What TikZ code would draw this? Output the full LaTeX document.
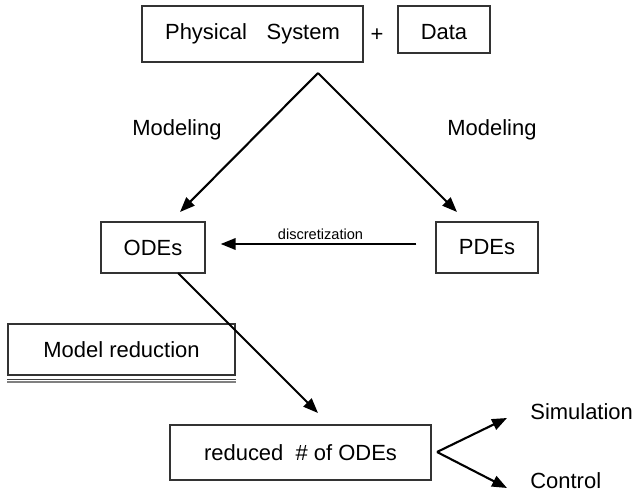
\documentclass[tikz,border=0pt]{standalone}
\usepackage{fontspec}
\setmainfont{Liberation Sans}
\usetikzlibrary{arrows.meta}

\begin{document}
\begin{tikzpicture}[x=0.02cm, y=-0.02cm,
    box/.style={draw=black!80, line width=0.8pt, inner sep=0pt, font=\fontsize{12.5}{15}\selectfont},
    lbl/.style={font=\fontsize{12.5}{15}\selectfont},
    arr/.style={line width=1.2pt, -{Triangle[length=8.5pt,width=6.5pt]}}]
    \useasboundingbox (0,0) rectangle (632,493);
    \node [box, minimum width=4.42cm, minimum height=1.12cm] (phys) at (252.5,34) {Physical\hspace{0.9em}System};
    \node [lbl] (plus) at (377,35) {+};
    \node [box, minimum width=1.84cm, minimum height=0.94cm, text height=0.41cm] (data) at (444,29.5) {Data};
    \node [lbl] (modl) at (177,130) {Modeling};
    \node [lbl] (modr) at (492,130) {Modeling};
    \node [box, minimum width=2.08cm, minimum height=1.02cm] (odes) at (153,247.5) {ODEs};
    \node [box, minimum width=2.04cm, minimum height=1.02cm] (pdes) at (487,247.5) {PDEs};
    \node [box, minimum width=4.54cm, minimum height=1.02cm] (mred) at (121.5,349.5) {Model reduction};
    \node [box, minimum width=5.22cm, minimum height=1.1cm] (red) at (300.5,452.5) {reduced\ \ \# of ODEs};
    \node [lbl, anchor=base west, inner sep=0pt] (sim) at (530,419) {Simulation};
    \node [lbl, anchor=base west, inner sep=0pt] (ctrl) at (530,488) {Control};
    \coordinate (top) at (318,73);
    \coordinate (otip) at (180,212);
    \coordinate (ptip) at (457,212);
    \coordinate (ostart) at (178,273);
    \coordinate (rtip) at (318,413);
    \coordinate (fork) at (437,452);
    \coordinate (stip) at (507,418);
    \coordinate (ctip) at (507,488);
    \draw [arr] (top) -- (otip);
    \draw [arr] (top) -- (ptip);
    \draw [arr, shorten <=0.38cm, shorten >=0.3cm] ([yshift=0.07cm]pdes.west) -- node [above, inner sep=2pt, font=\fontsize{8.3}{10}\selectfont] (disc) {discretization} ([yshift=0.07cm]odes.east);
    \draw [arr] (ostart) -- (rtip);
    \draw [arr] (fork) -- (stip);
    \draw [arr] (fork) -- (ctip);
    \draw [black!75, line width=0.5pt] ([yshift=-0.08cm]mred.south west) -- ([yshift=-0.08cm]mred.south east);
    \draw [black!50, line width=1pt] ([yshift=-0.13cm]mred.south west) -- ([yshift=-0.13cm]mred.south east);
\end{tikzpicture}
\end{document}
